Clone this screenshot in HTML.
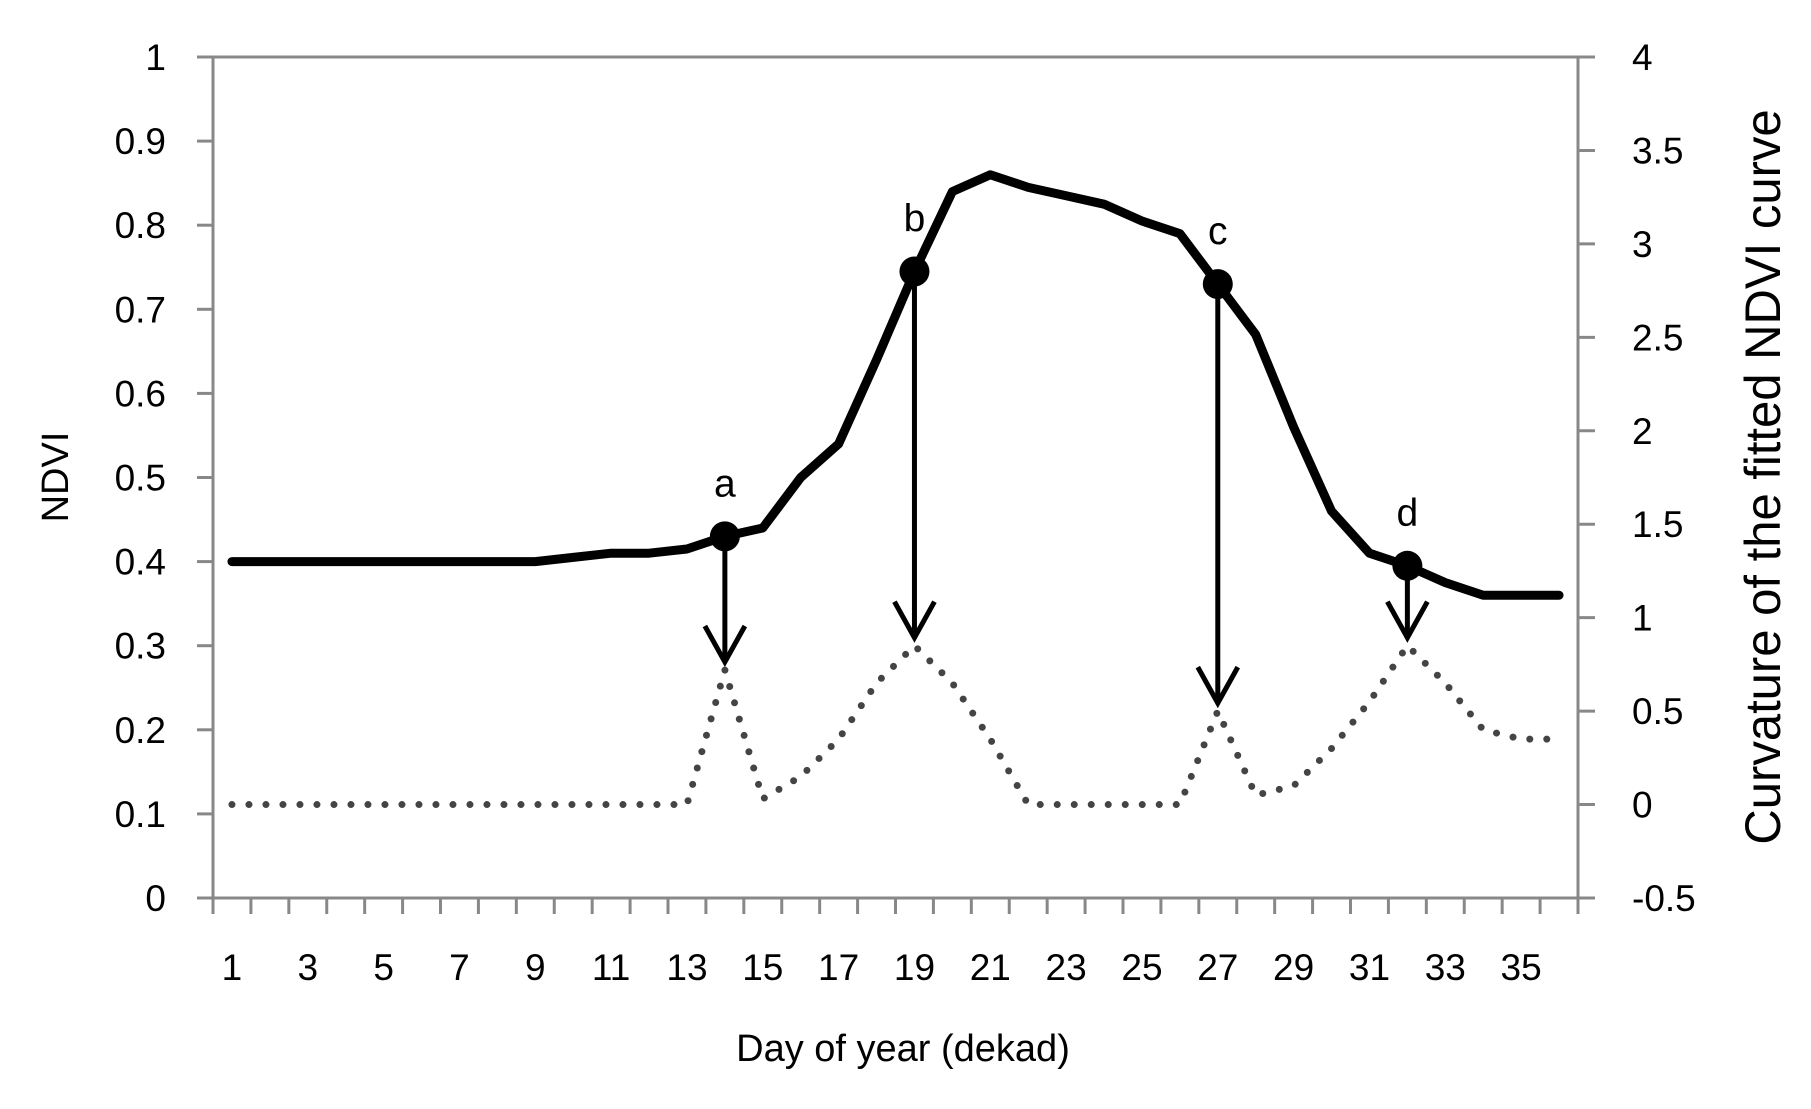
<!DOCTYPE html>
<html><head><meta charset="utf-8"><style>
html,body{margin:0;padding:0;background:#fff;}
svg{display:block;font-family:"Liberation Sans",sans-serif;}
</style></head><body>
<svg id="c" width="1811" height="1109" viewBox="0 0 1811 1109"></svg>
<script>
const categories=[];for(let i=1;i<=36;i++)categories.push(i);
const ndviValues=[0.40,0.40,0.40,0.40,0.40,0.40,0.40,0.40,0.40,0.405,0.41,0.41,0.415,0.43,0.44,0.50,0.54,0.64,0.745,0.84,0.86,0.845,0.835,0.825,0.805,0.79,0.73,0.67,0.56,0.46,0.41,0.395,0.375,0.36,0.36,0.36];
const curvatureValues=[0,0,0,0,0,0,0,0,0,0,0,0,0,0.72,0.03,0.15,0.35,0.65,0.85,0.65,0.35,0,0,0,0,0,0.5,0.05,0.1,0.3,0.55,0.85,0.65,0.4,0.35,0.35];
const leftTicks=[0,0.1,0.2,0.3,0.4,0.5,0.6,0.7,0.8,0.9,1];
const leftTickLabels=["0","0.1","0.2","0.3","0.4","0.5","0.6","0.7","0.8","0.9","1"];
const rightTicks=[-0.5,0,0.5,1,1.5,2,2.5,3,3.5,4];
const rightTickLabels=["-0.5","0","0.5","1","1.5","2","2.5","3","3.5","4"];
const xLabelCats=[1,3,5,7,9,11,13,15,17,19,21,23,25,27,29,31,33,35];
const pointCats=[14,19,27,32];
const pointLabels=["a","b","c","d"];

const L=213,R=1578,T=57,B=898;
const bw=(R-L)/categories.length;
const x=c=>L+(c-0.5)*bw;
const yL=v=>B-(v-0)/(1-0)*(B-T);
const yR=v=>B-(v+0.5)/(4.5)*(B-T);
const svg=document.getElementById('c');
const NS='http://www.w3.org/2000/svg';
function mk(tag,attrs,parent){const e=document.createElementNS(NS,tag);for(const k in attrs)e.setAttribute(k,attrs[k]);(parent||svg).appendChild(e);return e;}

let fr=mk('rect',{x:L,y:T,width:R-L,height:B-T,fill:'none',stroke:'#888','stroke-width':3});



leftTicks.forEach((v,i)=>{
  let t=mk('line',{x1:L-16,x2:L,y1:yL(v),y2:yL(v),stroke:'#888','stroke-width':3});
  
  
  let tx=mk('text',{x:166,y:yL(v)+13,'text-anchor':'end','font-size':37,fill:'#000'});
  tx.textContent=leftTickLabels[i];
  
  
});
rightTicks.forEach((v,i)=>{
  let t=mk('line',{x1:R,x2:R+17,y1:yR(v),y2:yR(v),stroke:'#888','stroke-width':3});
  
  
  let tx=mk('text',{x:1632,y:yR(v)+13,'text-anchor':'start','font-size':37,fill:'#000'});
  tx.textContent=rightTickLabels[i];
  
  
});
for(let i=0;i<=categories.length;i++){
  let t=mk('line',{x1:L+i*bw,x2:L+i*bw,y1:B,y2:B+16,stroke:'#888','stroke-width':3});
  
  
}
xLabelCats.forEach(c=>{
  let tx=mk('text',{x:x(c),y:980,'text-anchor':'middle','font-size':37,fill:'#000'});
  tx.textContent=String(c);
  
  
});

let xt=mk('text',{x:903,y:1061,'text-anchor':'middle','font-size':38,fill:'#000'});
xt.textContent='Day of year (dekad)';


let yt=mk('text',{x:0,y:0,'text-anchor':'middle','font-size':38,fill:'#000',transform:'translate(68,477) rotate(-90)'});
yt.textContent='NDVI';


let yt2=mk('text',{x:0,y:0,'text-anchor':'middle','font-size':50,fill:'#000',transform:'translate(1780,477) rotate(-90) scale(0.98,1)'});
yt2.textContent='Curvature of the fitted NDVI curve';



let cp=mk('polyline',{points:categories.map((c,i)=>x(c)+','+yR(curvatureValues[i])).join(' '),fill:'none',stroke:'#444','stroke-width':7,'stroke-dasharray':'0 17','stroke-linecap':'round'});


let np=mk('polyline',{points:categories.map((c,i)=>x(c)+','+yL(ndviValues[i])).join(' '),fill:'none',stroke:'#000','stroke-width':9,'stroke-linejoin':'round','stroke-linecap':'round'});



pointCats.forEach((c,k)=>{
  const i=categories.indexOf(c);
  const px=x(c),py=yL(ndviValues[i]),ey=yR(curvatureValues[i])-8;
  let a=mk('line',{x1:px,y1:py,x2:px,y2:ey,stroke:'#000','stroke-width':5});
  
  
  let h=mk('polyline',{points:(px-20)+','+(ey-36)+' '+px+','+ey+' '+(px+20)+','+(ey-36),fill:'none',stroke:'#000','stroke-width':5});
  
  
  let m=mk('circle',{cx:px,cy:py,r:15,fill:'#000'});
  
  
  let t=mk('text',{x:px,y:py-40,'text-anchor':'middle','font-size':39,fill:'#000'});
  t.textContent=pointLabels[k];
  
  
});
</script>
</body></html>
